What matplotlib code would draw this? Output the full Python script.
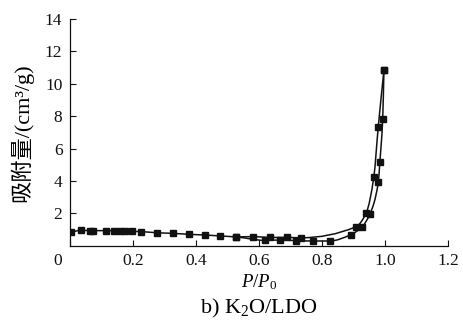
import numpy as np
import matplotlib

matplotlib.use("Agg")
import matplotlib.pyplot as plt
from matplotlib.path import Path
from matplotlib.patches import PathPatch
from matplotlib.transforms import ScaledTranslation

plt.rcParams["font.family"] = ["Liberation Serif", "Noto Sans CJK SC"]
plt.rcParams["mathtext.fontset"] = "custom"
plt.rcParams["mathtext.rm"] = "Liberation Serif"
plt.rcParams["mathtext.it"] = "Liberation Serif:italic"

# adsorption branch (lower), P/P0 and volume in cm3/g
ads_p = [0.003, 0.034, 0.064, 0.074, 0.113, 0.138, 0.157, 0.175, 0.196, 0.226,
         0.275, 0.328, 0.379, 0.427, 0.477, 0.527, 0.617, 0.667, 0.718, 0.770,
         0.824, 0.891, 0.927, 0.951, 0.978, 0.983, 0.992, 0.996]
ads_v = [0.83, 0.95, 0.93, 0.93, 0.93, 0.93, 0.93, 0.92, 0.89, 0.87,
         0.80, 0.76, 0.70, 0.66, 0.60, 0.54, 0.33, 0.35, 0.31, 0.29,
         0.29, 0.68, 1.17, 1.94, 3.91, 5.15, 7.81, 10.85]

# desorption branch (upper)
des_p = [0.996, 0.978, 0.964, 0.940, 0.907, 0.733, 0.687, 0.636, 0.581, 0.527]
des_v = [10.85, 7.35, 4.26, 2.04, 1.17, 0.49, 0.51, 0.51, 0.56, 0.54]

xticks = [0, 0.2, 0.4, 0.6, 0.8, 1.0, 1.2]
xtick_labels = ["0", "0.2", "0.4", "0.6", "0.8", "1.0", "1.2"]
yticks = [2, 4, 6, 8, 10, 12, 14]


def smooth_path(x, y):
    """Monotone cubic (Fritsch-Carlson) through the points, as a Bezier path."""
    x = np.asarray(x, float)
    y = np.asarray(y, float)
    h = np.diff(x)
    d = np.diff(y) / h
    m = np.zeros_like(y)
    m[0], m[-1] = d[0], d[-1]
    for i in range(1, len(x) - 1):
        if d[i - 1] * d[i] <= 0:
            m[i] = 0.0
        else:
            w1 = 2 * h[i] + h[i - 1]
            w2 = h[i] + 2 * h[i - 1]
            m[i] = (w1 + w2) / (w1 / d[i - 1] + w2 / d[i])
    verts = [(x[0], y[0])]
    codes = [Path.MOVETO]
    for i in range(len(x) - 1):
        verts += [(x[i] + h[i] / 3, y[i] + m[i] * h[i] / 3),
                  (x[i + 1] - h[i] / 3, y[i + 1] - m[i + 1] * h[i] / 3),
                  (x[i + 1], y[i + 1])]
        codes += [Path.CURVE4] * 3
    return Path(verts, codes)


fig = plt.figure(figsize=(4.64, 3.24), dpi=100)
ax = fig.add_axes([0.151, 0.2417, 0.815, 0.6993])

for px, pv in [(ads_p, ads_v), (des_p, des_v)]:
    ax.add_patch(PathPatch(smooth_path(px, pv), fill=False, edgecolor="#111111",
                           linewidth=1.1))
    ax.plot(px, pv, linestyle="none", marker="s", markersize=4.2,
            color="#111111")

ax.set_xlim(0, 1.2)
ax.set_ylim(0, 14)
ax.set_xticks(xticks)
ax.set_xticklabels(xtick_labels)
ax.set_yticks(yticks)
for s in ["top", "right"]:
    ax.spines[s].set_visible(False)
for s in ["left", "bottom"]:
    ax.spines[s].set_linewidth(0.9)
    ax.spines[s].set_color("#111111")
ax.tick_params(direction="in", length=4, width=0.8, colors="#111111",
               labelsize=12.5, pad=5.5)

# the "0" sits to the left of the origin
lbl0 = ax.get_xticklabels()[0]
lbl0.set_transform(lbl0.get_transform() + ScaledTranslation(-12 / 100, 0, fig.dpi_scale_trans))

ax.set_xlabel(r"$P/P_{\mathrm{0}}$", fontsize=13.5, labelpad=2)
ax.set_ylabel("吸附量/(cm³/g)", fontsize=16)
ax.yaxis.set_label_coords(-0.098, 0.5)

fig.text(0.557, 0.049, r"b) K$_{2}$O/LDO", ha="center", va="center",
         fontsize=16)

fig.savefig("out.png", dpi=100)
